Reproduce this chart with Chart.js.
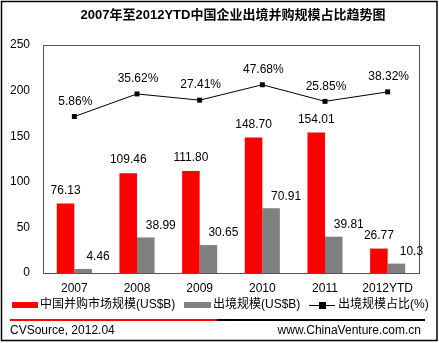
<!DOCTYPE html>
<html>
<head>
<meta charset="utf-8">
<script src="https://cdn.jsdelivr.net/npm/chart.js@4.4.0/dist/chart.umd.min.js"></script>
<style>
  html,body{margin:0;padding:0;background:#fff;}
  #wrap{width:439px;height:343px;position:relative;}
</style>
</head>
<body>
<div id="wrap"><canvas id="chart" width="439" height="343"></canvas></div>
<script>
const years = ['2007','2008','2009','2010','2011','2012YTD'];
const marketSize = [76.13,109.46,111.80,148.70,154.01,26.77];
const outboundSize = [4.46,38.99,30.65,70.91,39.81,10.3];
const outboundShare = [5.86,35.62,27.41,47.68,25.85,38.32];
const marketLabels = ['76.13','109.46','111.80','148.70','154.01','26.77'];
const outboundLabels = ['4.46','38.99','30.65','70.91','39.81','10.3'];
const shareLabels = outboundShare.map(v=>v.toFixed(2)+'%');
const yTicks = [0,50,100,150,200,250];

const FONT = '"Liberation Sans", Arial, "Noto Sans CJK SC", sans-serif';

const decor = {
    id: 'decor',
    beforeDraw(chart){
        const ctx = chart.ctx;
        ctx.save();
        ctx.fillStyle = '#fff';
        ctx.fillRect(0,0,chart.width,chart.height);
        ctx.restore();
    },
    afterDatasetsDraw(chart){
        const ctx = chart.ctx, a = chart.chartArea;
        ctx.save();
        // plot frame
        ctx.strokeStyle = '#555';
        ctx.lineWidth = 1;
        ctx.strokeRect(Math.round(a.left)+0.5, Math.round(a.top)+0.5, Math.round(a.right-a.left), Math.round(a.bottom-a.top));
        // data labels
        ctx.fillStyle = '#000';
        ctx.font = '12px ' + FONT;
        ctx.textAlign = 'center';
        ctx.textBaseline = 'middle';
        chart.getDatasetMeta(0).data.forEach((b,i)=>{
            ctx.fillText(marketLabels[i], b.x, b.y-13);
        });
        chart.getDatasetMeta(1).data.forEach((b,i)=>{
            ctx.fillText(outboundLabels[i], b.x+15, b.y-12);
        });
        chart.getDatasetMeta(2).data.forEach((p,i)=>{
            ctx.fillText(shareLabels[i], p.x+1, p.y-15);
        });
        // title
        ctx.font = 'bold 13px ' + FONT;
        ctx.fillText('2007年至2012YTD中国企业出境并购规模占比趋势图', 233, 15);
        // legend
        ctx.font = '12px ' + FONT;
        ctx.textAlign = 'left';
        const ly = 305;
        ctx.fillStyle = '#ff0000';
        ctx.fillRect(12, ly-3, 26, 6);
        ctx.fillStyle = '#000';
        ctx.fillText('中国并购市场规模(US$B)', 40, ly);
        ctx.fillStyle = '#808080';
        ctx.fillRect(184, ly-3, 27, 6);
        ctx.fillStyle = '#000';
        ctx.fillText('出境规模(US$B)', 213, ly);
        ctx.beginPath();
        ctx.moveTo(309, ly+0.5); ctx.lineTo(335, ly+0.5);
        ctx.strokeStyle = '#000'; ctx.stroke();
        ctx.fillRect(319, ly-3, 7, 7);
        ctx.fillText('出境规模占比(%)', 338, ly);
        // separator
        ctx.fillStyle = '#ff0000';
        ctx.fillRect(10, 319, 207, 2);
        ctx.fillStyle = '#000';
        ctx.fillRect(217, 319, 208, 2);
        // footer
        ctx.fillText('CVSource, 2012.04', 10, 331);
        ctx.textAlign = 'right';
        ctx.fillText('www.ChinaVenture.com.cn', 421, 331);
        // outer border
        ctx.lineWidth = 1.5;
        ctx.strokeRect(1.5, 1.5, 435.5, 339);
        ctx.restore();
    }
};

new Chart(document.getElementById('chart'), {
    type: 'bar',
    data: {
        labels: years,
        datasets: [{
            label: '中国并购市场规模(US$B)',
            data: marketSize,
            backgroundColor: '#ff0000',
            categoryPercentage: 0.56,
            barPercentage: 1.0,
            order: 2
        }, {
            label: '出境规模(US$B)',
            data: outboundSize,
            backgroundColor: '#808080',
            categoryPercentage: 0.56,
            barPercentage: 1.0,
            order: 2
        }, {
            label: '出境规模占比(%)',
            type: 'line',
            data: outboundShare,
            yAxisID: 'y1',
            borderColor: '#000',
            borderWidth: 1,
            backgroundColor: '#000',
            pointStyle: 'rect',
            pointRadius: 3.5,
            pointBorderWidth: 0,
            tension: 0,
            order: 1
        }]
    },
    options: {
        responsive: false,
        animation: false,
        events: [],
        layout: { padding: { top: 45, left: 0, right: 20, bottom: 0 } },
        plugins: {
            legend: { display: false },
            title: { display: false },
            tooltip: { enabled: false }
        },
        scales: {
            x: {
                grid: { display: false, drawTicks: false },
                border: { display: false },
                ticks: { color: '#000', padding: 8, font: { family: FONT, size: 12 }, maxRotation: 0 },
                afterFit(scale){ scale.height = 70; }
            },
            y: {
                min: 0,
                max: 250,
                afterBuildTicks(scale){ scale.ticks = yTicks.map(v=>({value: v})); },
                grid: { display: false, drawTicks: false },
                border: { display: false },
                ticks: { color: '#000', padding: 13, font: { family: FONT, size: 12 } },
                afterFit(scale){ scale.width = 43; }
            },
            y1: {
                display: false,
                min: -200,
                max: 100
            }
        }
    },
    plugins: [decor]
});
</script>
</body>
</html>
